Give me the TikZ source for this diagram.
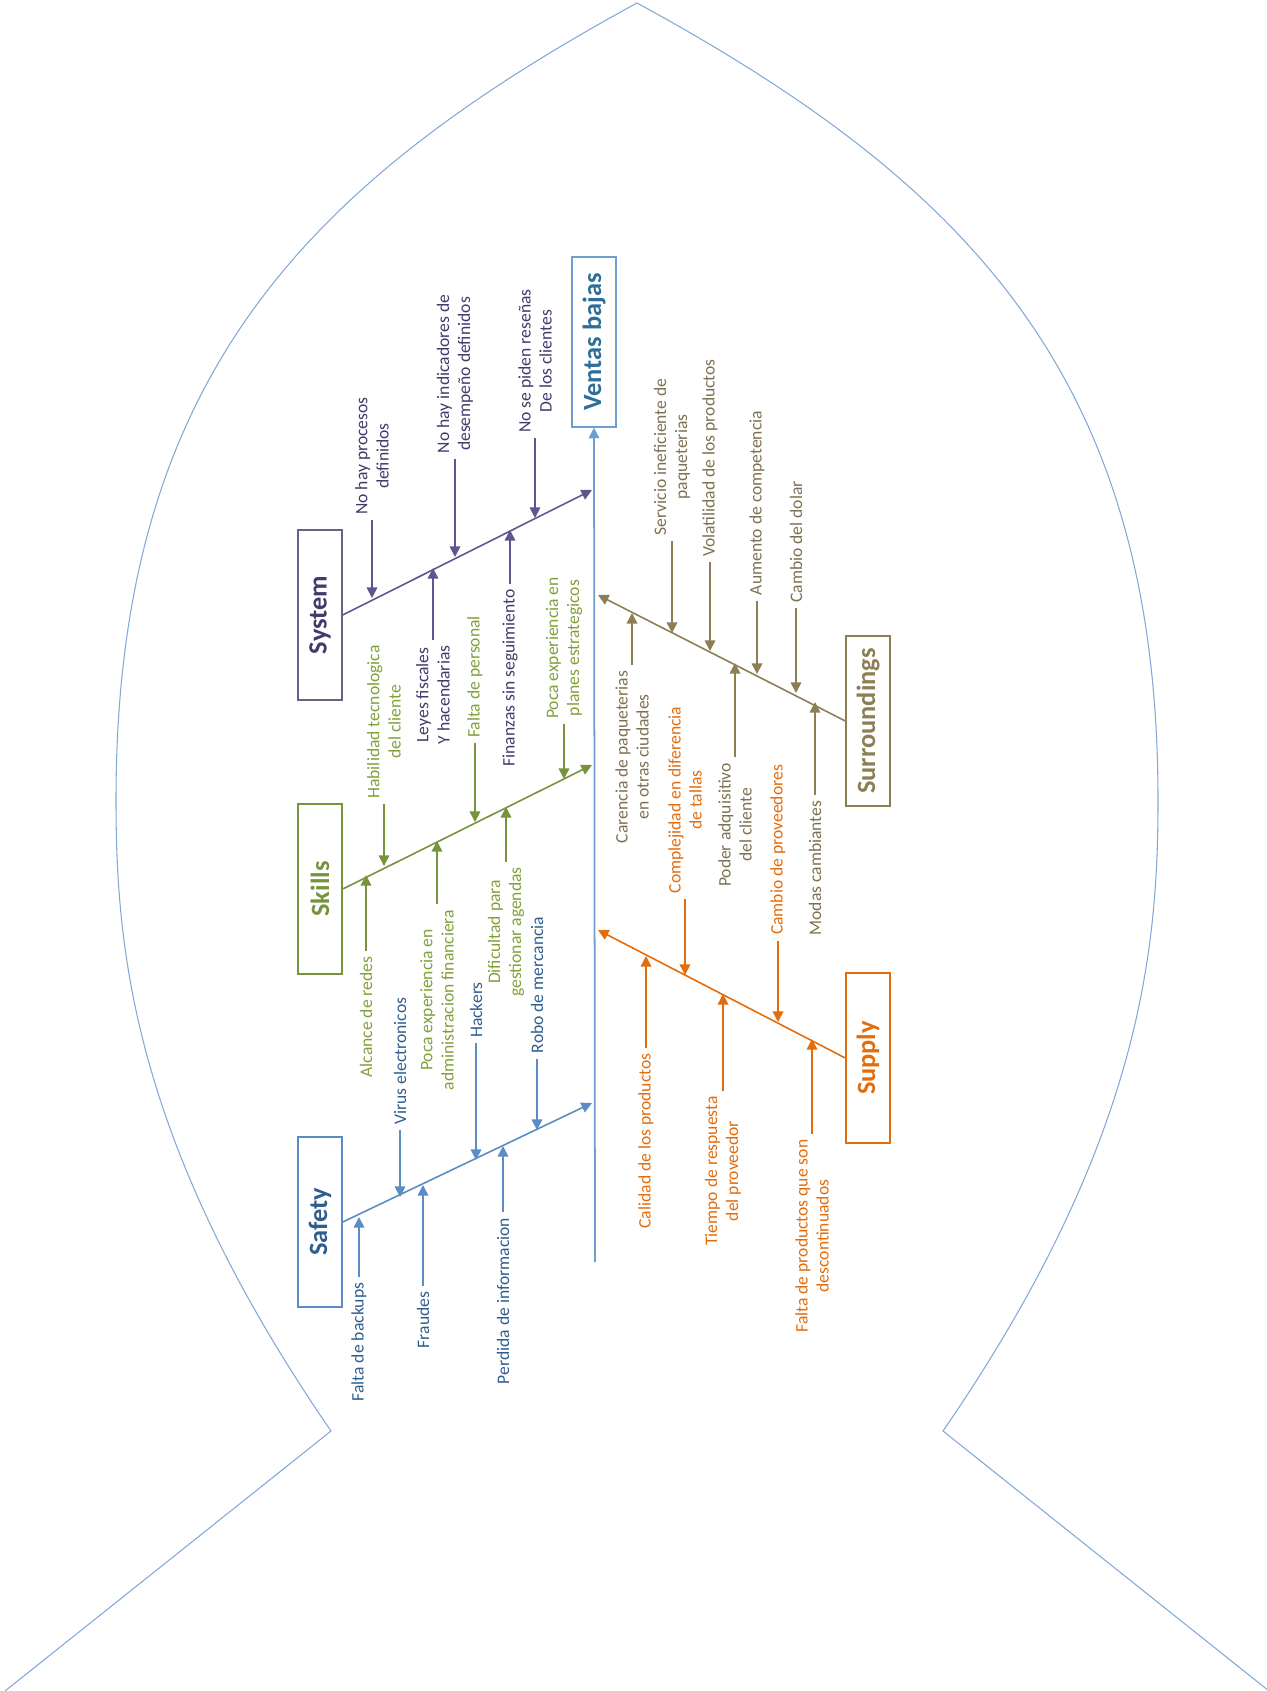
\documentclass[tikz,border=0pt]{standalone}
\usepackage{fontspec}
\setmainfont{Carlito}
\usepackage{xcolor}
\usetikzlibrary{arrows.meta}
\definecolor{syscol}{HTML}{5E5690}
\definecolor{systxt}{HTML}{413B6B}
\definecolor{skicol}{HTML}{77933C}
\definecolor{skitxt}{HTML}{82A03A}
\definecolor{safcol}{HTML}{5B8CC4}
\definecolor{saftxt}{HTML}{2F5E8E}
\definecolor{surcol}{HTML}{8C7E55}
\definecolor{surtxt}{HTML}{7E7152}
\definecolor{supcol}{HTML}{E46C0A}
\definecolor{spinecol}{HTML}{6A9FCF}
\definecolor{vbtxt}{HTML}{2E6F99}
\definecolor{outlinecol}{HTML}{82A8D6}
\tikzset{>={Triangle[length=6pt,width=6pt]}}
\tikzset{%
    catbox/.style={%
        draw, fill=white, line width=0.8pt, rotate=90,
        minimum width=3.4cm, minimum height=0.88cm,
        font=\fontsize{15}{17}\selectfont\bfseries
    },
    cause/.style={rotate=90, align=center, inner sep=3pt, font=\fontsize{10}{12}\selectfont},
    causearrow/.style={->, line width=0.9pt},
    bone/.style={->, line width=0.9pt},
    outline/.style={draw=outlinecol, line width=0.6pt}
}

\begin{document}
\begin{tikzpicture}[x=0.2mm,y=-0.2mm]
	\useasboundingbox (0,0) rectangle (1266,1691);

	\draw[outline] (5,1691) -- (331,1431) .. controls (133,1143) and (116,950) .. (116,800)
		.. controls (116,380) and (303,185) .. (637,3)
		.. controls (971,185) and (1158,380) .. (1158,800)
		.. controls (1158,950) and (1141,1143) .. (943,1431) -- (1269,1691);

	\node[catbox,draw=spinecol,text=vbtxt] (vb) at (594,342) {Ventas bajas};
	\coordinate (tail) at (595,1262);
	\draw[->,line width=1pt,spinecol] (tail)--(vb.west);

	\node[catbox,draw=syscol!70!gray,text=systxt] (sys) at (320,615) {System};
	\node[catbox,draw=skicol,text=skicol] (ski) at (320,889) {Skills};
	\node[catbox,draw=safcol,text=saftxt] (saf) at (320,1222) {Safety};
	\node[catbox,draw=surcol,text=surcol] (sur) at (868,721) {Surroundings};
	\node[catbox,draw=supcol,text=supcol] (sup) at (868,1058) {Supply};

	\coordinate (sysend) at (592,490);
	\coordinate (skiend) at (592,765);
	\coordinate (safend) at (592,1103);
	\coordinate (surend) at (598,595);
	\coordinate (supend) at (598,930);

	\draw[bone,syscol] (sys.south)--(sysend);
	\draw[bone,skicol] (ski.south)--(skiend);
	\draw[bone,safcol] (saf.south)--(safend);
	\draw[bone,surcol] (sur.north)--(surend);
	\draw[bone,supcol] (sup.north)--(supend);

	\node[cause,text=systxt] (s1) at (372,456) {No hay procesos\\definidos};
	\node[cause,text=systxt] (s2) at (455,374) {No hay indicadores de\\desempeño definidos};
	\node[cause,text=systxt] (s3) at (535,361) {No se piden reseñas\\De los clientes};
	\node[cause,text=systxt] (s4) at (433,695) {Leyes fiscales\\Y hacendarias};
	\node[cause,text=systxt] (s5) at (510,678) {Finanzas sin seguimiento};
	\coordinate (s1t) at (372,598);
	\coordinate (s2t) at (455,557);
	\coordinate (s3t) at (535,518);
	\coordinate (s4t) at (433,568);
	\coordinate (s5t) at (510,530);
	\draw[causearrow,syscol] (s1)--(s1t);
	\draw[causearrow,syscol] (s2)--(s2t);
	\draw[causearrow,syscol] (s3)--(s3t);
	\draw[causearrow,syscol] (s4)--(s4t);
	\draw[causearrow,syscol] (s5)--(s5t);

	\node[cause,text=skitxt] (k1) at (384,722) {Habilidad tecnologica\\del cliente};
	\node[cause,text=skitxt] (k2) at (475,677) {Falta de personal};
	\node[cause,text=skitxt] (k3) at (564,648) {Poca experiencia en\\planes estrategicos};
	\node[cause,text=skitxt] (k4) at (366,1017) {Alcance de redes};
	\node[cause,text=skitxt] (k5) at (437,1000) {Poca experiencia en\\administracion financiera};
	\node[cause,text=skitxt] (k6) at (506,932) {Dificultad para\\gestionar agendas};
	\coordinate (k1t) at (384,866);
	\coordinate (k2t) at (475,822);
	\coordinate (k3t) at (564,779);
	\coordinate (k4t) at (366,875);
	\coordinate (k5t) at (437,841);
	\coordinate (k6t) at (506,807);
	\draw[causearrow,skicol] (k1)--(k1t);
	\draw[causearrow,skicol] (k2)--(k2t);
	\draw[causearrow,skicol] (k3)--(k3t);
	\draw[causearrow,skicol] (k4)--(k4t);
	\draw[causearrow,skicol] (k5)--(k5t);
	\draw[causearrow,skicol] (k6)--(k6t);

	\node[cause,text=saftxt] (f1) at (400,1061) {Virus electronicos};
	\node[cause,text=saftxt] (f2) at (476,1010) {Hackers};
	\node[cause,text=saftxt] (f3) at (537,985) {Robo de mercancia};
	\node[cause,text=saftxt] (f4) at (359,1342) {Falta de backups};
	\node[cause,text=saftxt] (f5) at (423,1320) {Fraudes};
	\node[cause,text=saftxt] (f6) at (503,1301) {Perdida de informacion};
	\coordinate (f1t) at (400,1197);
	\coordinate (f2t) at (476,1160);
	\coordinate (f3t) at (537,1130);
	\coordinate (f4t) at (359,1217);
	\coordinate (f5t) at (423,1185);
	\coordinate (f6t) at (503,1146);
	\draw[causearrow,safcol] (f1)--(f1t);
	\draw[causearrow,safcol] (f2)--(f2t);
	\draw[causearrow,safcol] (f3)--(f3t);
	\draw[causearrow,safcol] (f4)--(f4t);
	\draw[causearrow,safcol] (f5)--(f5t);
	\draw[causearrow,safcol] (f6)--(f6t);

	\node[cause,text=surtxt] (r1) at (672,457) {Servicio ineficiente de\\paqueterias};
	\node[cause,text=surtxt] (r2) at (710,458) {Volatilidad de los productos};
	\node[cause,text=surtxt] (r3) at (757,503) {Aumento de competencia};
	\node[cause,text=surtxt] (r4) at (796,542) {Cambio del dolar};
	\node[cause,text=surtxt] (r5) at (632,757) {Carencia de paqueterias\\en otras ciudades};
	\node[cause,text=surtxt] (r6) at (735,825) {Poder adquisitivo\\del cliente};
	\node[cause,text=surtxt] (r7) at (815,868) {Modas cambiantes};
	\coordinate (r1t) at (672,633);
	\coordinate (r2t) at (710,651);
	\coordinate (r3t) at (757,674);
	\coordinate (r4t) at (796,693);
	\coordinate (r5t) at (632,613);
	\coordinate (r6t) at (735,663);
	\coordinate (r7t) at (815,702);
	\draw[causearrow,surcol] (r1)--(r1t);
	\draw[causearrow,surcol] (r2)--(r2t);
	\draw[causearrow,surcol] (r3)--(r3t);
	\draw[causearrow,surcol] (r4)--(r4t);
	\draw[causearrow,surcol] (r5)--(r5t);
	\draw[causearrow,surcol] (r6)--(r6t);
	\draw[causearrow,surcol] (r7)--(r7t);

	\node[cause,text=supcol] (p1) at (685,800) {Complejidad en diferencia\\de tallas};
	\node[cause,text=supcol] (p2) at (778,850) {Cambio de proveedores};
	\node[cause,text=supcol] (p3) at (646,1141) {Calidad de los productos};
	\node[cause,text=supcol] (p4) at (723,1171) {Tiempo de respuesta\\del proveedor};
	\node[cause,text=supcol] (p5) at (812,1236) {Falta de productos que son\\descontinuados};
	\coordinate (p1t) at (685,975);
	\coordinate (p2t) at (778,1022);
	\coordinate (p3t) at (646,956);
	\coordinate (p4t) at (723,994);
	\coordinate (p5t) at (812,1039);
	\draw[causearrow,supcol] (p1)--(p1t);
	\draw[causearrow,supcol] (p2)--(p2t);
	\draw[causearrow,supcol] (p3)--(p3t);
	\draw[causearrow,supcol] (p4)--(p4t);
	\draw[causearrow,supcol] (p5)--(p5t);
\end{tikzpicture}
\end{document}
